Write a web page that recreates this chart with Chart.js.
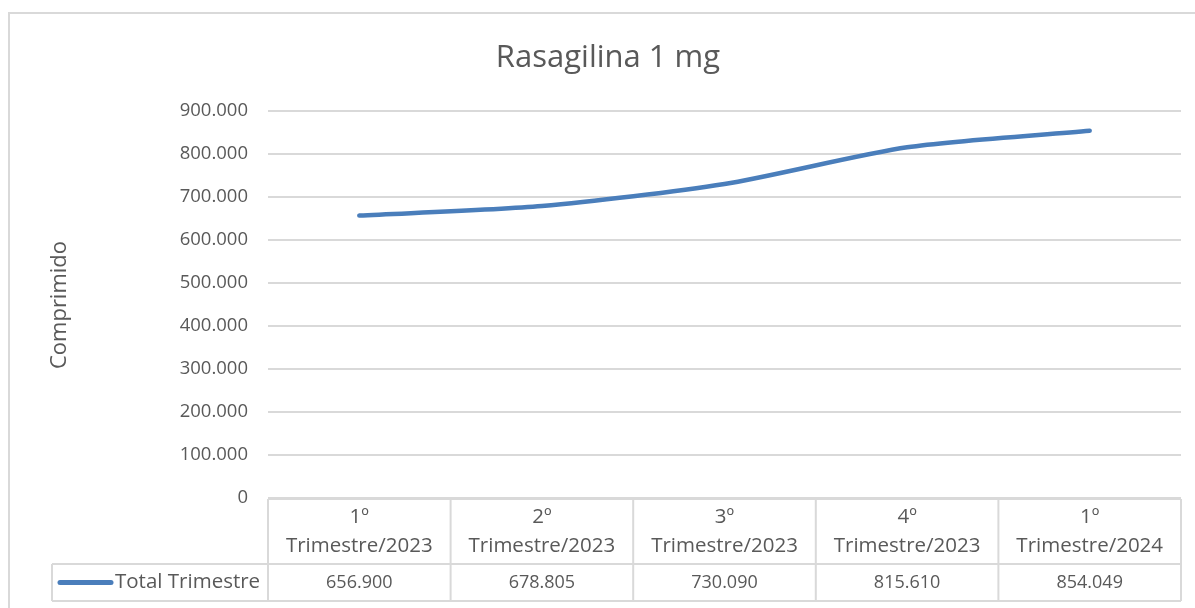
<!DOCTYPE html>
<html>
<head>
<meta charset="utf-8">
<script src="https://cdn.jsdelivr.net/npm/chart.js@4/dist/chart.umd.min.js"></script>
<style>
html,body{margin:0;padding:0;background:#fff;}
#wrap{position:relative;width:1195px;height:608px;}
</style>
</head>
<body>
<div id="wrap"><canvas id="c" width="1195" height="608"></canvas></div>
<script>
const categories = [["1º","Trimestre/2023"],["2º","Trimestre/2023"],["3º","Trimestre/2023"],["4º","Trimestre/2023"],["1º","Trimestre/2024"]];
const seriesName = "Total Trimestre";
const values = [656900, 678805, 730090, 815610, 854049];
const valueLabels = ["656.900","678.805","730.090","815.610","854.049"];
const chartTitle = "Rasagilina 1 mg";
const yTitle = "Comprimido";

const FONT = "'Open Sans', 'Noto Sans', sans-serif";
const TEXT = "#595959";
const GRID = "#d9d9d9";
const LINE = "#4a7ebb";

function fmt(v){ return v === 0 ? "0" : String(v).replace(/\B(?=(\d{3})+(?!\d))/g, '.'); }

const tablePlugin = {
  id: 'tablePlugin',
  afterDraw(chart){
    const ctx = chart.ctx;
    const xs = chart.scales.x;
    const ca = chart.chartArea;
    const top = ca.bottom + 1;
    const mid = top + 65;
    const bot = mid + 37;
    const legLeft = 52;
    ctx.save();
    // outer border
    ctx.strokeStyle = GRID; ctx.lineWidth = 2;
    ctx.beginPath();
    ctx.moveTo(9, 700); ctx.lineTo(9, 13); ctx.lineTo(1200, 13);
    ctx.stroke();
    const n = categories.length;
    const w = (ca.right - ca.left) / n;
    ctx.beginPath();
    ctx.moveTo(ca.left, top); ctx.lineTo(ca.right, top);
    ctx.moveTo(legLeft, mid); ctx.lineTo(ca.right, mid);
    ctx.moveTo(legLeft, bot); ctx.lineTo(ca.right, bot);
    ctx.moveTo(legLeft, mid); ctx.lineTo(legLeft, bot);
    for (let i = 0; i <= n; i++) {
      const x = ca.left + i * w;
      ctx.moveTo(x, top); ctx.lineTo(x, bot);
    }
    ctx.stroke();
    ctx.fillStyle = TEXT;
    ctx.textAlign = 'center'; ctx.textBaseline = 'middle';
    for (let i = 0; i < n; i++) {
      const cx = xs.getPixelForValue(i);
      ctx.font = "20.5px " + FONT;
      ctx.fillText(categories[i][0], cx, top + 18);
      ctx.fillText(categories[i][1], cx, top + 47);
      ctx.font = "18px " + FONT;
      ctx.fillText(valueLabels[i], cx, mid + 18.5);
    }
    // legend key
    ctx.strokeStyle = LINE; ctx.lineWidth = 5; ctx.lineCap = 'round';
    ctx.beginPath(); ctx.moveTo(60, mid + 18.5); ctx.lineTo(111, mid + 18.5); ctx.stroke();
    ctx.textAlign = 'left';
    ctx.font = "20.5px " + FONT;
    ctx.fillText(seriesName, 115, mid + 18.5);
    // chart title
    ctx.textAlign = 'center';
    ctx.font = "31px " + FONT;
    ctx.fillText(chartTitle, 608, 58);
    // y axis title
    ctx.save();
    ctx.translate(60, 305);
    ctx.rotate(-Math.PI / 2);
    ctx.textAlign = 'center';
    ctx.font = "22px " + FONT;
    ctx.fillText(yTitle, 0, 0);
    ctx.restore();
    ctx.restore();
  }
};

new Chart(document.getElementById('c'), {
  type: 'line',
  data: {
    labels: categories.map(c => c.join(' ')),
    datasets: [{
      label: seriesName,
      data: values,
      borderColor: LINE,
      borderWidth: 4.5,
      borderCapStyle: 'round',
      pointRadius: 0,
      tension: 0.25,
      fill: false
    }]
  },
  options: {
    responsive: false,
    animation: false,
    devicePixelRatio: 1,
    layout: { padding: { left: 0, right: 14, top: 0, bottom: 110 } },
    plugins: {
      legend: { display: false },
      tooltip: { enabled: false },
      title: {
        display: true, text: chartTitle,
        color: 'rgba(0,0,0,0)', font: { family: FONT, size: 30, weight: 'normal' },
        padding: { top: 41, bottom: 34 }
      }
    },
    scales: {
      x: {
        offset: true,
        grid: { display: false, drawTicks: false },
        border: { display: false },
        ticks: { display: false }
      },
      y: {
        min: 0, max: 900000,
        afterFit(s){ s.width = 268; },
        ticks: { stepSize: 100000, color: TEXT, font: { family: FONT, size: 18.5 }, padding: 20, callback: v => fmt(v) },
        grid: { color: GRID, lineWidth: 2, drawTicks: false },
        border: { display: false }
      }
    }
  },
  plugins: [tablePlugin]
});
</script>
</body>
</html>
